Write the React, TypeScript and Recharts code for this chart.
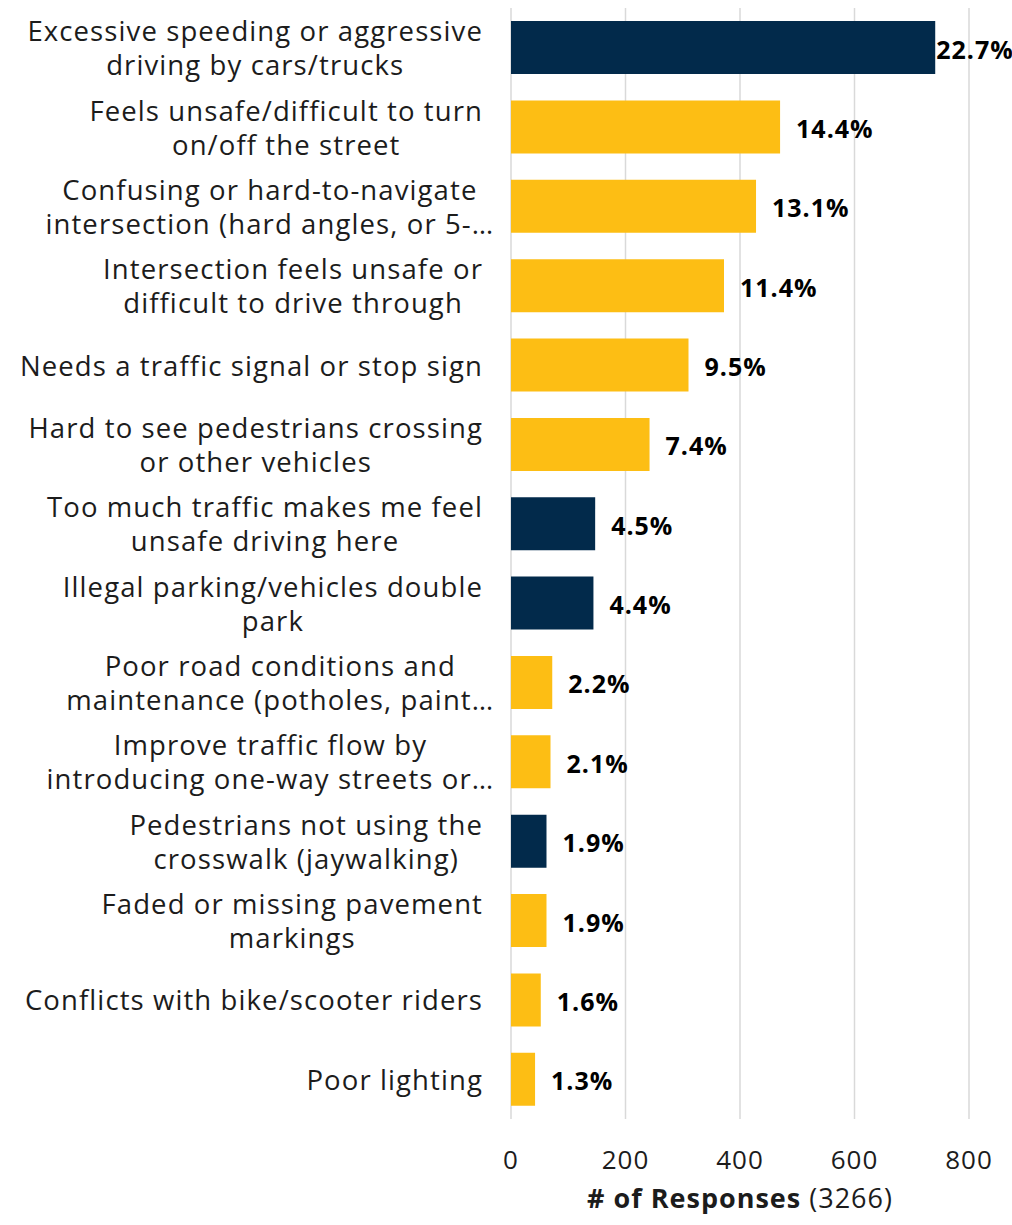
import React from "react";
import {
  BarChart,
  Bar,
  XAxis,
  YAxis,
  CartesianGrid,
  Cell,
  LabelList,
} from "recharts";

// categories, line breaks as shown on the chart
const categories = [
  "Excessive speeding or aggressive\ndriving by cars/trucks",
  "Feels unsafe/difficult to turn\non/off the street",
  "Confusing or hard-to-navigate\nintersection (hard angles, or 5-…",
  "Intersection feels unsafe or\ndifficult to drive through",
  "Needs a traffic signal or stop sign",
  "Hard to see pedestrians crossing\nor other vehicles",
  "Too much traffic makes me feel\nunsafe driving here",
  "Illegal parking/vehicles double\npark",
  "Poor road conditions and\nmaintenance (potholes, paint…",
  "Improve traffic flow by\nintroducing one-way streets or…",
  "Pedestrians not using the\ncrosswalk (jaywalking)",
  "Faded or missing pavement\nmarkings",
  "Conflicts with bike/scooter riders",
  "Poor lighting",
];

const responses = [741, 470, 428, 372, 310, 242, 147, 144, 72, 69, 62, 62, 52, 42];

const highlighted = [true, false, false, false, false, false, true, true, false, false, true, false, false, false];

const totalResponses = 3266;

const xTicks = [0, 200, 400, 600, 800];

const NAVY = "#022A4B";
const YELLOW = "#FDBE14";
const TEXT = "#1c1c1c";
const FONT = "'Open Sans', Lato, sans-serif";

const data = categories.map((name, i) => ({
  name,
  count: responses[i],
  pct: ((responses[i] / totalResponses) * 100).toFixed(1) + "%",
}));

let ctx: CanvasRenderingContext2D | null = null;
function measure(s: string, font: string, spacing = 0) {
  if (!ctx) ctx = document.createElement("canvas").getContext("2d");
  if (!ctx) return s.length * 14;
  ctx.font = font;
  return ctx.measureText(s).width + spacing * s.length;
}

const CAT_SIZE = 27.5;
const CAT_SPACING = 1.1;
const CAT_LINE = 34;

function CategoryTick(props: any) {
  const { x, y, payload } = props;
  const lines: string[] = String(payload.value).split("\n");
  const font = `${CAT_SIZE}px ${FONT}`;
  const widest = Math.max(
    ...lines.map((l) => measure(l.replace(/…$/, ""), font, CAT_SPACING))
  );
  const right = x - 26;
  const cx = right - widest / 2;
  const startY = y - ((lines.length - 1) * CAT_LINE) / 2;
  return (
    <text
      x={cx}
      y={startY}
      textAnchor="middle"
      fontFamily={FONT}
      fontSize={CAT_SIZE}
      letterSpacing={CAT_SPACING}
      fill={TEXT}
    >
      {lines.map((l, i) => (
        <tspan key={i} x={cx} y={startY + i * CAT_LINE} dominantBaseline="central">
          {l}
        </tspan>
      ))}
    </text>
  );
}

function ValueTick(props: any) {
  const { x, y, payload } = props;
  return (
    <text
      x={x}
      y={y + 38}
      textAnchor="middle"
      dominantBaseline="central"
      fontFamily={FONT}
      fontSize={26}
      letterSpacing={1}
      fill={TEXT}
    >
      {payload.value}
    </text>
  );
}

const CHART_W = 1012;

function PctLabel(props: any) {
  const { x, y, width, height, value } = props;
  const end = x + width;
  const font = `bold 25px ${FONT}`;
  const w = measure(String(value), font, 1);
  const lx = end + 16 + w > CHART_W ? end + 1 : end + 16;
  return (
    <text
      x={lx}
      y={y + height / 2 + 1}
      dominantBaseline="central"
      fontFamily={FONT}
      fontSize={25}
      fontWeight={700}
      letterSpacing={1}
      fill="#000"
    >
      {value}
    </text>
  );
}

function AxisTitle(props: any) {
  const vb = props.viewBox || {};
  const cx = vb.x + vb.width / 2;
  return (
    <text
      x={cx}
      y={vb.y + 78}
      textAnchor="middle"
      dominantBaseline="central"
      fontFamily={FONT}
      fontSize={27}
      letterSpacing={1}
      fill={TEXT}
    >
      <tspan fontWeight={700}># of Responses</tspan>
      <tspan> ({totalResponses})</tspan>
    </text>
  );
}

export default function App() {
  return (
    <div style={{ position: "absolute", left: 0, top: 0, width: CHART_W, height: 1225, background: "#fff" }}>
      <BarChart
        width={CHART_W}
        height={1225}
        data={data}
        layout="vertical"
        margin={{ top: 8, right: 43, bottom: 0, left: 0 }}
        barCategoryGap="16.5%"
      >
        <CartesianGrid horizontal={false} stroke="#d9d9d9" strokeWidth={1.5} />
        <XAxis
          type="number"
          domain={[0, 800]}
          ticks={xTicks}
          axisLine={false}
          tickLine={false}
          tickSize={0}
          height={106}
          tick={<ValueTick />}
          label={<AxisTitle />}
        />
        <YAxis
          type="category"
          dataKey="name"
          width={511}
          axisLine={false}
          tickLine={false}
          tickSize={0}
          interval={0}
          tick={<CategoryTick />}
        />
        <Bar dataKey="count" isAnimationActive={false}>
          {data.map((d, i) => (
            <Cell key={d.name} fill={highlighted[i] ? NAVY : YELLOW} />
          ))}
          <LabelList dataKey="pct" content={<PctLabel />} />
        </Bar>
      </BarChart>
    </div>
  );
}
